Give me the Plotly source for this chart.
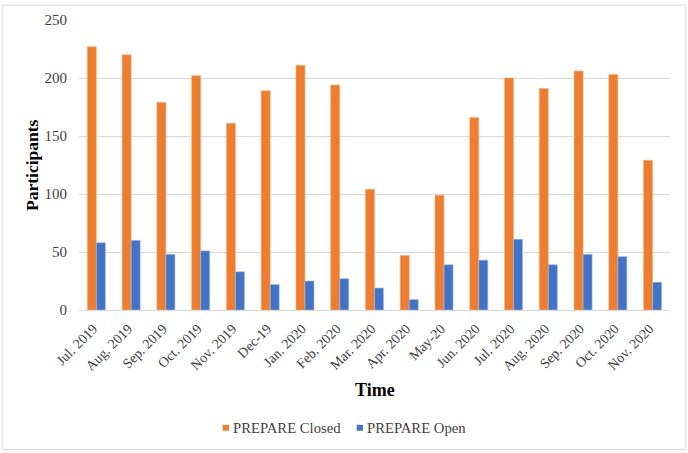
import plotly.graph_objects as go

months = ["Jul. 2019", "Aug. 2019", "Sep. 2019", "Oct. 2019", "Nov. 2019", "Dec-19",
          "Jan. 2020", "Feb. 2020", "Mar. 2020", "Apr. 2020", "May-20", "Jun. 2020",
          "Jul. 2020", "Aug. 2020", "Sep. 2020", "Oct. 2020", "Nov. 2020"]
closed = [227, 220, 179, 202, 161, 189, 211, 194, 104, 47, 99, 166, 200, 191, 206, 203, 129]
open_ = [58, 60, 48, 51, 33, 22, 25, 27, 19, 9, 39, 43, 61, 39, 48, 46, 24]
series_names = ["PREPARE Closed", "PREPARE Open"]

FONT = "Liberation Serif"
ORANGE = "#ED7D31"
BLUE = "#4472C4"
TXT = "#404040"

fig = go.Figure()
fig.add_trace(go.Bar(x=months, y=closed, name=series_names[0], showlegend=False,
                     marker=dict(color=ORANGE, line=dict(color="#F4B183", width=0.6))))
fig.add_trace(go.Bar(x=months, y=open_, name=series_names[1], showlegend=False,
                     marker=dict(color=BLUE, line=dict(color="#9DC3E6", width=0.6))))

# custom legend (small squares + text), positioned in paper coordinates
legend_items = [
    (series_names[0], ORANGE, 0.2431, 0.2538, 0.2572),
    (series_names[1], BLUE, 0.4699, 0.4805, 0.4840),
]
shapes = [dict(type="rect", xref="paper", yref="paper",
               x0=-0.130, x1=1.027, y0=-0.481, y1=1.051,
               line=dict(color="#D9D9D9", width=1))]
annotations = [
    dict(text="<b>Time</b>", x=0.5, y=-0.275, xref="paper", yref="paper",
         showarrow=False, font=dict(family=FONT, size=18, color="black"),
         xanchor="center", yanchor="middle"),
    dict(text="<b>Participants</b>", x=-0.0795, y=0.5, xref="paper", yref="paper",
         showarrow=False, textangle=-90, font=dict(family=FONT, size=17.5, color="black"),
         xanchor="center", yanchor="middle"),
]
for name, col, sx0, sx1, tx in legend_items:
    shapes.append(dict(type="rect", xref="paper", yref="paper",
                       x0=sx0, x1=sx1, y0=-0.4164, y1=-0.3959,
                       fillcolor=col, line=dict(width=0)))
    annotations.append(dict(text=name, x=tx, y=-0.406, xref="paper", yref="paper",
                            showarrow=False, xanchor="left", yanchor="middle",
                            font=dict(family=FONT, size=14.7, color=TXT)))

fig.update_layout(
    width=688, height=453,
    margin=dict(l=79, r=18, t=17, b=143),
    paper_bgcolor="white", plot_bgcolor="white",
    barmode="group", bargap=0.48, bargroupgap=0,
    font=dict(family=FONT, color=TXT),
    showlegend=False,
    xaxis=dict(tickangle=-45, tickfont=dict(family=FONT, size=14, color=TXT),
               showgrid=False, linecolor="#D9D9D9", showline=True, ticks="",
               ticklabelshift=-3, ticklabelstandoff=4),
    yaxis=dict(range=[0, 250], dtick=50, tickfont=dict(family=FONT, size=15, color=TXT),
               gridcolor="#D9D9D9", gridwidth=1, zeroline=False, ticks="", showline=False,
               ticklabelstandoff=11),
    annotations=annotations,
    shapes=shapes,
)

fig.write_html("out.html", config={"displayModeBar": False},
               post_script="document.body.style.margin='0';document.body.style.overflow='hidden';")
